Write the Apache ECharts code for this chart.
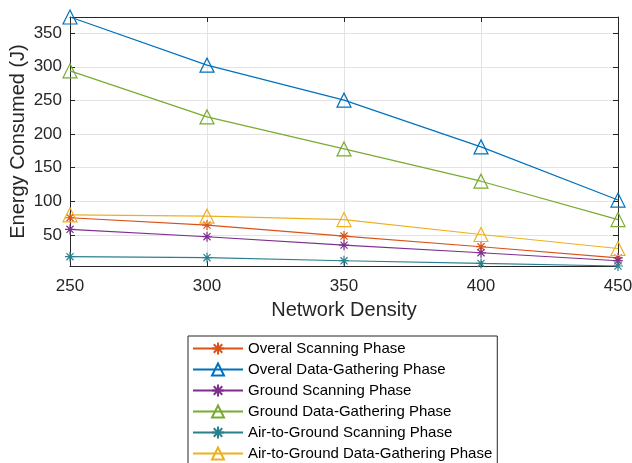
<!DOCTYPE html>
<html>
<head>
<meta charset="utf-8">
<script src="https://cdn.jsdelivr.net/npm/echarts@6/dist/echarts.min.js"></script>
<style>
    html, body { margin: 0; padding: 0; background: #fff; }
    #energy-chart { width: 632px; height: 463px; }
</style>
</head>
<body>
<div id="energy-chart"></div>
<script>
// network density on the x axis
const densities = [250, 300, 350, 400, 450];
const yTicks = [50, 100, 150, 200, 250, 300, 350];

// energy consumed (J)
const overalScanning = [75.7, 64.8, 48.5, 32.6, 16];
const overalGathering = [374, 302.5, 250.5, 181, 102];
const groundScanning = [58.5, 47.5, 35, 23.7, 11.8];
const groundGathering = [294, 225.5, 178, 130, 73];
const airScanning = [17.8, 16.3, 11.8, 7.8, 4];
const airGathering = [80, 78, 73, 50.8, 30];

const seriesNames = [
    'Overal Scanning Phase',
    'Overal Data-Gathering Phase',
    'Ground Scanning Phase',
    'Ground Data-Gathering Phase',
    'Air-to-Ground Scanning Phase',
    'Air-to-Ground Data-Gathering Phase'
];

const textColor = '#262626';
const asterisk = 'path://M0,-10L0,10M-10,0L10,0M-7.1,-7.1L7.1,7.1M-7.1,7.1L7.1,-7.1';

function makeSeries(name, values, color, marker) {
    let isTriangle = marker === 'triangle';
    return {
        name: name,
        type: 'line',
        data: values.map((v, i) => [densities[i], v]),
        symbol: isTriangle ? 'triangle' : asterisk,
        symbolSize: isTriangle ? 14 : 10,
        showAllSymbol: true,
        lineStyle: { color: color, width: 1.2 },
        itemStyle: {
            color: isTriangle ? 'rgba(255,255,255,0)' : color,
            borderColor: color,
            borderWidth: 1.2
        },
        emphasis: { disabled: true },
        animation: false
    };
}

const chart = echarts.init(document.getElementById('energy-chart'));

const option = {
    backgroundColor: '#fff',
    animation: false,
    grid: { left: 70, right: 14, top: 17, bottom: 197, outerBoundsMode: 'none' },
    legend: {
        orient: 'vertical',
        left: 188,
        top: 336,
        height: 160,
        padding: [5, 5, 6, 4],
        itemWidth: 50,
        itemHeight: 15,
        itemGap: 6,
        borderColor: textColor,
        borderWidth: 1,
        textStyle: { fontFamily: 'Liberation Sans', fontSize: 15, color: '#000' },
        data: seriesNames
    },
    xAxis: [{
        type: 'value',
        min: 250,
        max: 450,
        interval: 50,
        name: 'Network Density',
        nameLocation: 'middle',
        nameGap: 34,
        nameMoveOverlap: false,
        nameTextStyle: { fontFamily: 'Liberation Sans', fontSize: 20, color: textColor },
        axisLine: { lineStyle: { color: textColor, width: 1 } },
        axisTick: { inside: true, length: 5, lineStyle: { color: textColor } },
        axisLabel: { margin: 12, fontFamily: 'Liberation Sans', fontSize: 17, color: textColor },
        splitLine: { show: true, lineStyle: { color: '#e3e3e3', width: 1 } }
    }, {
        type: 'value',
        position: 'top',
        min: 250,
        max: 450,
        interval: 50,
        axisLine: { lineStyle: { color: textColor, width: 1 } },
        axisTick: { inside: true, length: 5, lineStyle: { color: textColor } },
        axisLabel: { show: false },
        splitLine: { show: false }
    }],
    yAxis: [{
        type: 'value',
        min: 4,
        max: 374,
        name: 'Energy Consumed (J)',
        nameLocation: 'middle',
        nameGap: 42,
        nameMoveOverlap: false,
        nameTextStyle: { fontFamily: 'Liberation Sans', fontSize: 20, color: textColor },
        axisLine: { show: true, lineStyle: { color: textColor, width: 1 } },
        axisTick: { show: true, inside: true, length: 5, customValues: yTicks, lineStyle: { color: textColor } },
        axisLabel: { margin: 8, customValues: yTicks, fontFamily: 'Liberation Sans', fontSize: 17, color: textColor },
        splitLine: { show: true, lineStyle: { color: '#e3e3e3', width: 1 } }
    }, {
        type: 'value',
        position: 'right',
        min: 4,
        max: 374,
        axisLine: { show: true, lineStyle: { color: textColor, width: 1 } },
        axisTick: { show: true, inside: true, length: 5, customValues: yTicks, lineStyle: { color: textColor } },
        axisLabel: { show: false },
        splitLine: { show: false }
    }],
    series: [
        makeSeries(seriesNames[0], overalScanning, '#D95319', 'asterisk'),
        makeSeries(seriesNames[1], overalGathering, '#0072BD', 'triangle'),
        makeSeries(seriesNames[2], groundScanning, '#7E2F8E', 'asterisk'),
        makeSeries(seriesNames[3], groundGathering, '#77AC30', 'triangle'),
        makeSeries(seriesNames[4], airScanning, '#2B8090', 'asterisk'),
        makeSeries(seriesNames[5], airGathering, '#EDB120', 'triangle')
    ]
};

chart.setOption(option);
</script>
</body>
</html>
